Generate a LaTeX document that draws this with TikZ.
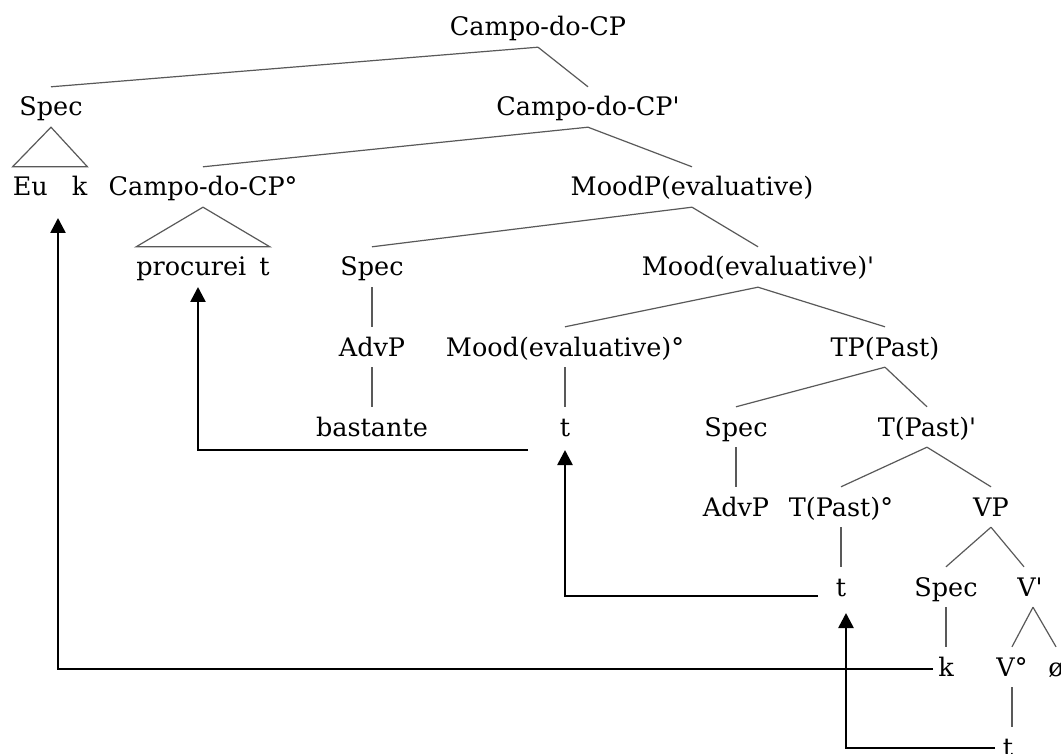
\documentclass[tikz,border=0pt]{standalone}
\usepackage{fontspec}
\setmainfont{DejaVu Serif}
\usetikzlibrary{arrows.meta}
\begin{document}
\begin{tikzpicture}[x=1pt,y=-1pt,
  lbl/.style={anchor=base, inner xsep=0pt, inner ysep=5pt, text height=24pt, text depth=6pt,
              font=\fontsize{25.5pt}{30pt}\selectfont},
  br/.style={draw=black!65, line width=1.2pt},
  mv/.style={draw=black, line width=2.6pt, -{Triangle[length=15pt,width=15pt]}}]
\clip (0,0) rectangle (1061,754);
\fill[white] (0,0) rectangle (1061,754);
% nodes
\node[lbl] (cp) at (538,36) {Campo-do-CP};
\node[lbl] (spec1) at (51,116) {Spec};
\node[lbl] (cpbar) at (588,116) {Campo-do-CP\textquotesingle};
\node[lbl] (euk) at (50,196) {Eu\hspace{24pt}k};
\node[lbl] (cpzero) at (203,196) {Campo-do-CP°};
\node[lbl] (moodp) at (692,196) {MoodP(evaluative)};
\node[lbl] (proc) at (203,276) {procurei\hspace{13pt}t};
\node[lbl] (spec2) at (372,276) {Spec};
\node[lbl] (moodbar) at (758,276) {Mood(evaluative)\textquotesingle};
\node[lbl] (advp1) at (372,356) {AdvP};
\node[lbl] (moodzero) at (565,356) {Mood(evaluative)°};
\node[lbl] (tp) at (885,356) {TP(Past)};
\node[lbl] (bast) at (372,436) {bastante};
\node[lbl] (t1) at (565,436) {t};
\node[lbl] (spec3) at (736,436) {Spec};
\node[lbl] (tbar) at (927,436) {T(Past)\textquotesingle};
\node[lbl] (advp2) at (736,516) {AdvP};
\node[lbl] (tzero) at (841,516) {T(Past)°};
\node[lbl] (vp) at (991,516) {VP};
\node[lbl] (t2) at (841,596) {t};
\node[lbl] (spec4) at (946,596) {Spec};
\node[lbl] (vbar) at (1030,596) {V\textquotesingle};
\node[lbl] (k) at (946,676) {k};
\node[lbl] (vzero) at (1012,676) {V°};
\node[lbl] (oslash) at (1056,676) {ø};
\node[lbl] (t3) at (1008,756) {t};
% branches
\draw[br] (cp.south) -- (spec1.north);
\draw[br] (cp.south) -- (cpbar.north);
\draw[br] (spec1.south) -- (euk.north west) -- (euk.north east) -- cycle;
\draw[br] (cpbar.south) -- (cpzero.north);
\draw[br] (cpbar.south) -- (moodp.north);
\draw[br] (cpzero.south) -- (proc.north west) -- (proc.north east) -- cycle;
\draw[br] (moodp.south) -- (spec2.north);
\draw[br] (moodp.south) -- (moodbar.north);
\draw[br] (spec2.south) -- (advp1.north);
\draw[br] (advp1.south) -- (bast.north);
\draw[br] (moodbar.south) -- (moodzero.north);
\draw[br] (moodbar.south) -- (tp.north);
\draw[br] (moodzero.south) -- (t1.north);
\draw[br] (tp.south) -- (spec3.north);
\draw[br] (tp.south) -- (tbar.north);
\draw[br] (spec3.south) -- (advp2.north);
\draw[br] (tbar.south) -- (tzero.north);
\draw[br] (tbar.south) -- (vp.north);
\draw[br] (tzero.south) -- (t2.north);
\draw[br] (vp.south) -- (spec4.north);
\draw[br] (vp.south) -- ([xshift=-6pt]vbar.north);
\draw[br] (spec4.south) -- (k.north);
\draw[br] ([xshift=3pt]vbar.south) -- (vzero.north);
\draw[br] ([xshift=3pt]vbar.south) -- (oslash.north);
\draw[br] (vzero.south) -- (vzero.south |- t3.north);
% movement arrows
\coordinate (a1s) at (933,669); \coordinate (a1e) at (58,218);
\coordinate (a2s) at (528,450); \coordinate (a2e) at (198,287);
\coordinate (a3s) at (818,596); \coordinate (a3e) at (565,450);
\coordinate (a4s) at (995,748); \coordinate (a4e) at (846,613);
\draw[mv] (a1s) -| (a1e);
\draw[mv] (a2s) -| (a2e);
\draw[mv] (a3s) -| (a3e);
\draw[mv] (a4s) -| (a4e);
\end{tikzpicture}
\end{document}
